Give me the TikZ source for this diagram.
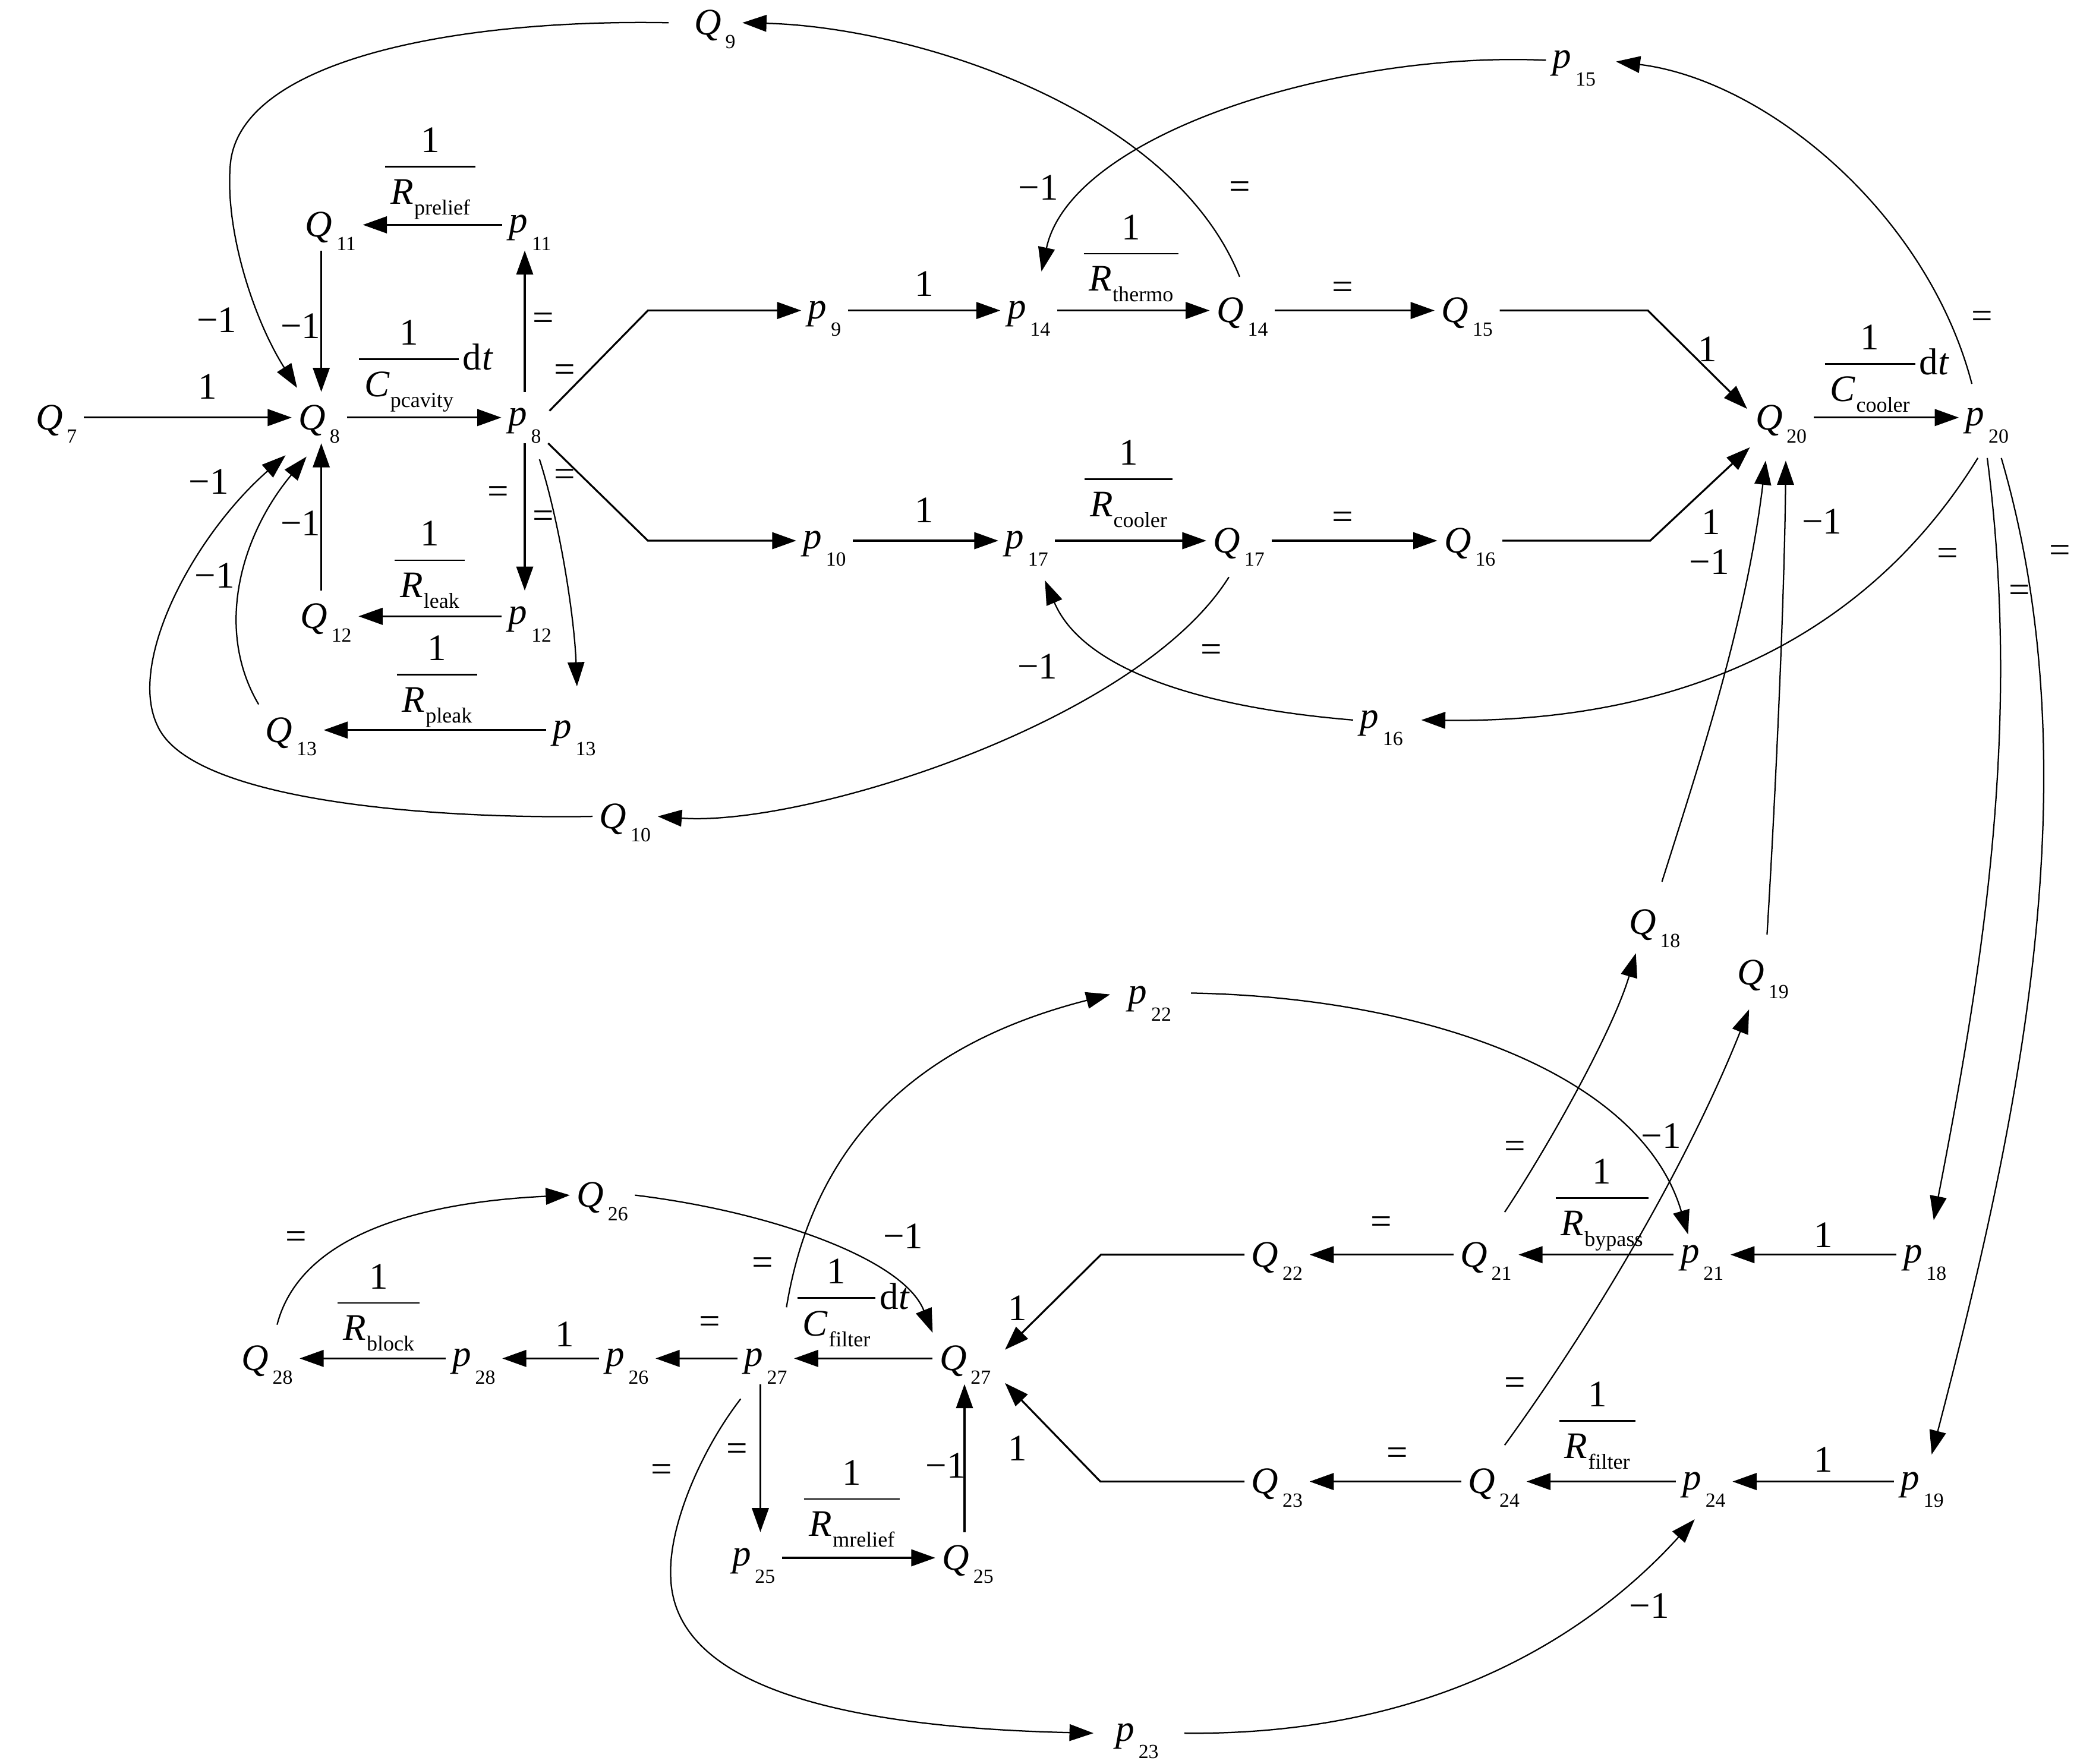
\documentclass[tikz,border=0pt]{standalone}
\usepackage{fontspec}
\setmainfont{Liberation Serif}
\usetikzlibrary{arrows.meta,calc}
\newcommand\QV[1]{\textit{Q}\kern3pt\raisebox{-10pt}[0pt][0pt]{\fontsize{15}{15}\selectfont #1}}
\newcommand\PV[1]{\textit{p}\kern3pt\raisebox{-13pt}[0pt][0pt]{\fontsize{15}{15}\selectfont #1}}
\newcommand\myfrac[2]{%
 \setbox0=\hbox{\textit{#1}\kern0.5pt\raisebox{-8pt}{\fontsize{16}{16}\selectfont #2}}%
 \vbox{\offinterlineskip
  \hbox to \dimexpr\wd0+8pt\relax{\hss 1\hss}%
  \kern10pt
  \hrule height 1.2pt
  \kern9pt
  \hbox to \dimexpr\wd0+8pt\relax{\hss\box0\hss}}}
\newcommand\myfracdt[2]{\hbox{\myfrac{#1}{#2}\kern3pt\raisebox{20pt}{d\kern0.5pt\textit{t}}}}
\begin{document}
\begin{tikzpicture}[x=1pt,y=1pt,
  every node/.style={font=\fontsize{28}{30}\selectfont},
  var/.style={inner xsep=5pt,inner ysep=10pt,text height=18pt,text depth=0pt},
  pvar/.style={inner xsep=5pt,inner ysep=13pt,text height=12pt,text depth=0pt},
  lb/.style={inner sep=0pt},
  frc/.style={inner sep=0pt,anchor=base},
  frw/.style={inner sep=0pt,anchor=base west},
  sarr/.style={-{Triangle[length=18pt,width=12.5pt]},line width=1.4pt},
  carr/.style={-{Triangle[length=18pt,width=12.5pt]},line width=1.0pt}]
\useasboundingbox (0,0) rectangle (1568,-1318);
% variable nodes
\node[var] (Q7) at (42,-312) {\QV{7}};
\node[var] (Q8) at (238.5,-312) {\QV{8}};
\node[pvar] (p8) at (392,-312) {\PV{8}};
\node[var] (Q11) at (247,-168) {\QV{11}};
\node[pvar] (p11) at (396,-168) {\PV{11}};
\node[var] (Q12) at (243.5,-460.5) {\QV{12}};
\node[pvar] (p12) at (396,-460.5) {\PV{12}};
\node[var] (Q13) at (217.5,-545.5) {\QV{13}};
\node[pvar] (p13) at (429,-545.5) {\PV{13}};
\node[var] (Q9) at (534,-17) {\QV{9}};
\node[var] (Q10) at (467,-610) {\QV{10}};
\node[pvar] (p9) at (616,-232) {\PV{9}};
\node[pvar] (p14) at (768.5,-232) {\PV{14}};
\node[var] (Q14) at (928,-232) {\QV{14}};
\node[var] (Q15) at (1096,-232) {\QV{15}};
\node[pvar] (p10) at (616,-404) {\PV{10}};
\node[pvar] (p17) at (767,-404) {\PV{17}};
\node[var] (Q17) at (925.5,-404) {\QV{17}};
\node[var] (Q16) at (1098,-404) {\QV{16}};
\node[var] (Q20) at (1330.5,-312) {\QV{20}};
\node[pvar] (p20) at (1484.5,-312) {\PV{20}};
\node[pvar] (p15) at (1176,-45) {\PV{15}};
\node[pvar] (p16) at (1032,-538) {\PV{16}};
\node[var] (Q18) at (1236,-689) {\QV{18}};
\node[var] (Q19) at (1317,-727) {\QV{19}};
\node[pvar] (p22) at (859,-744) {\PV{22}};
\node[var] (Q22) at (954,-937.5) {\QV{22}};
\node[var] (Q21) at (1110,-937.5) {\QV{21}};
\node[pvar] (p21) at (1271.5,-937.5) {\PV{21}};
\node[pvar] (p18) at (1438,-937.5) {\PV{18}};
\node[var] (Q23) at (954,-1107) {\QV{23}};
\node[var] (Q24) at (1116,-1107) {\QV{24}};
\node[pvar] (p24) at (1273,-1107) {\PV{24}};
\node[pvar] (p19) at (1436,-1107) {\PV{19}};
\node[pvar] (p23) at (849.5,-1295) {\PV{23}};
\node[var] (Q26) at (450,-893) {\QV{26}};
\node[var] (Q28) at (199.5,-1015) {\QV{28}};
\node[pvar] (p28) at (354,-1015) {\PV{28}};
\node[pvar] (p26) at (468.5,-1015) {\PV{26}};
\node[pvar] (p27) at (572,-1015) {\PV{27}};
\node[var] (Q27) at (721,-1015) {\QV{27}};
\node[pvar] (p25) at (563,-1164) {\PV{25}};
\node[var] (Q25) at (723,-1164) {\QV{25}};
% fractions
\node[frc] (f1) at (321.5,-152.5) {\myfrac{R}{prelief}};
\node[frw] (f2) at (268,-296.5) {\myfracdt{C}{pcavity}};
\node[frc] (f3) at (321,-446.5) {\myfrac{R}{leak}};
\node[frc] (f4) at (326.5,-532) {\myfrac{R}{pleak}};
\node[frc] (f5) at (845,-217.5) {\myfrac{R}{thermo}};
\node[frc] (f6) at (843,-386) {\myfrac{R}{cooler}};
\node[frw] (f7) at (1363,-300) {\myfracdt{C}{cooler}};
\node[frc] (f8) at (1196.7,-923) {\myfrac{R}{bypass}};
\node[frc] (f9) at (1193.2,-1089.5) {\myfrac{R}{filter}};
\node[frw] (f10) at (595.4,-998) {\myfracdt{C}{filter}};
\node[frc] (f11) at (282.9,-1001.5) {\myfrac{R}{block}};
\node[frc] (f12) at (636.4,-1148) {\myfrac{R}{mrelief}};
% corner coordinates
\coordinate (c1) at (484,-232);
\coordinate (c2) at (484,-404);
\coordinate (c3) at (1231,-232);
\coordinate (c4) at (1232.7,-404);
\coordinate (c5) at (822.4,-937.5);
\coordinate (c6) at (822,-1107);
% straight connectors, upper left
\draw[sarr] (Q7.east) -- (Q8.west);
\draw[sarr] (Q8.east) -- (p8.west);
\draw[sarr] (p8.north) -- (p8.north |- p11.south);
\draw[sarr] (p11.west) -- (Q11.east);
\draw[sarr] ([xshift=-7pt]Q11.south) -- ([xshift=-7pt]Q11.south |- Q8.north);
\draw[sarr] ([xshift=-3.5pt]Q12.north) -- ([xshift=-3.5pt]Q12.north |- Q8.south);
\draw[sarr] (p8.south) -- (p8.south |- p12.north);
\draw[sarr] (p12.west) -- (Q12.east);
\draw[sarr] (p13.west) -- (Q13.east);
\draw[carr] ($(p8.south)+(11,-12)$) .. controls (418,-390) and (429,-460) .. ($(p13.north)+(2,13.5)$);
\draw[carr] (Q13.north west) .. controls (160,-470) and (180,-400) .. ($(Q8.south)+(-9.5,-10)$);
\draw[carr] (Q10.west) .. controls (330,-612) and (145,-600) .. (118,-543) .. controls (94,-495) and (145,-400) .. ($(Q8.south west)+(-4.6,-9)$);
\draw[carr] ($(Q9.west)+(-14,0)$) .. controls (340,-14) and (178,-45) .. (172,-123.5) .. controls (168,-173.4) and (190,-239.6) .. ($(Q8.north west)+(4,3)$);
\draw[carr] ($(Q14.north)+(-2,6)$) .. controls (875,-80) and (680,-20) .. (Q9.east);
% middle rows
\draw[sarr] ($(p8.east)+(1,5)$) -- (c1) -- (p9.west);
\draw[sarr] (p8.south east) -- (c2) -- (p10.west);
\draw[sarr] (p9.east) -- (p14.west);
\draw[sarr] (p14.east) -- (Q14.west);
\draw[sarr] (Q14.east) -- (Q15.west);
\draw[sarr] (Q15.east) -- (c3) -- ($(Q20.west)+(-1,6.5)$);
\draw[sarr] (p10.east) -- (p17.west);
\draw[sarr] (p17.east) -- (Q17.west);
\draw[sarr] (Q17.east) -- (Q16.west);
\draw[sarr] (Q16.east) -- (c4) -- ($(Q20.south west)+(1,-3)$);
\draw[sarr] (Q20.east) -- (p20.west);
\draw[carr] ($(p20.north)+(-11.5,6)$) .. controls (1440,-160) and (1320,-60) .. ($(p15.east)+(10,-1)$);
\draw[carr] (p15.west) .. controls (1000,-38) and (800,-100) .. ($(p14.north)+(9.5,10)$);
\draw[carr] ($(Q17.south)+(-7.5,-8)$) .. controls (850,-540) and (600,-618) .. (Q10.east);
\draw[carr] (p16.west) .. controls (890,-528) and (808,-498) .. ($(p17.south)+(13.6,-10.5)$);
\draw[carr] ($(p20.south)+(-7,-11)$) .. controls (1380,-500) and (1220,-540) .. ($(p16.east)+(8.5,0)$);
\draw[carr] ($(p20.south)+(0,-11)$) .. controls (1510,-540) and (1482.5,-716) .. ($(p18.north)+(6.5,6.6)$);
\draw[carr] ($(p20.south)+(10.5,-11)$) .. controls (1565,-582) and (1505.5,-846.5) .. ($(p19.north)+(7,1)$);
\draw[carr] ($(Q18.north)+(5.5,11)$) .. controls (1271.5,-564) and (1304.6,-463) .. ($(Q20.south)+(-11.5,-13)$);
\draw[carr] ($(Q19.north)+(3,9.5)$) .. controls (1326,-600) and (1333,-450) .. ($(Q20.south)+(3.5,-13)$);
\draw[carr] ($(Q21.north)+(14,12.6)$) .. controls (1157,-856) and (1205,-770) .. ($(Q18.south)+(-14,-4)$);
\draw[carr] ($(Q24.north)+(8,8)$) .. controls (1195,-982) and (1262,-866) .. ($(Q19.south)+(-10.4,-8)$);
% lower part
\draw[carr] ($(p22.east)+(9.5,2)$) .. controls (1060,-745) and (1225,-800) .. ($(p21.north)+(-10.5,-4)$);
\draw[carr] ($(p27.north)+(15.5,19)$) .. controls (610,-840) and (700,-776) .. ($(p22.west)+(-8.5,1)$);
\draw[sarr] (p18.west) -- (p21.east);
\draw[sarr] (p21.west) -- (Q21.east);
\draw[sarr] (Q21.west) -- (Q22.east);
\draw[sarr] (Q22.west) -- (c5) -- ($(Q27.east)+(5.4,6.5)$);
\draw[sarr] (Q23.west) -- (c6) -- ($(Q27.east)+(5.4,-18.4)$);
\draw[sarr] (Q24.west) -- (Q23.east);
\draw[sarr] (p24.west) -- (Q24.east);
\draw[sarr] (p19.west) -- (p24.east);
\draw[carr] ($(p23.east)+(14,0)$) .. controls (1060,-1297) and (1180,-1230) .. ($(p24.south)+(-7,-9)$);
\draw[carr] ($(p27.south west)+(2.5,-11)$) .. controls (523,-1084.5) and (500,-1140) .. (501,-1176) .. controls (501,-1250) and (600,-1290) .. ($(p23.west)+(-11.4,0)$);
\draw[sarr] (Q27.west) -- (p27.east);
\draw[sarr] (p27.west) -- (p26.east);
\draw[sarr] (p26.west) -- (p28.east);
\draw[sarr] (p28.west) -- (Q28.east);
\draw[carr] ($(Q28.north)+(7.5,6)$) .. controls (225,-920) and (320,-898) .. (Q26.west);
\draw[carr] (Q26.east) .. controls (573.6,-905) and (674.6,-940) .. (Q27.north west);
\draw[sarr] ([xshift=-4pt]p27.south) -- ([xshift=-4pt]p27.south |- p25.north);
\draw[sarr] (p25.east) -- (Q25.west);
\draw[sarr] ([xshift=-2.5pt]Q25.north) -- ([xshift=-2.5pt]Q25.north |- Q27.south);
% labels "1"
\node[lb] (a1) at (155,-289) {1};
\node[lb] (a2) at (690.5,-212) {1};
\node[lb] (a3) at (690.5,-381) {1};
\node[lb] (a4) at (1275.6,-261) {1};
\node[lb] (a5) at (1278,-390) {1};
\node[lb] (a6) at (1362,-922.8) {1};
\node[lb] (a7) at (1362,-1090.7) {1};
\node[lb] (a8) at (421.8,-997) {1};
\node[lb] (a9) at (760,-977.4) {1};
\node[lb] (a10) at (760,-1082) {1};
% labels "-1"
\node[lb] (m1) at (162,-239) {−1};
\node[lb] (m2) at (224.5,-243.5) {−1};
\node[lb] (m3) at (156,-360) {−1};
\node[lb] (m4) at (224.5,-391) {−1};
\node[lb] (m5) at (160.5,-430) {−1};
\node[lb] (m6) at (775.6,-140) {−1};
\node[lb] (m7) at (1361,-389.5) {−1};
\node[lb] (m8) at (1277,-419.6) {−1};
\node[lb] (m9) at (775,-498) {−1};
\node[lb] (m10) at (1241,-848.5) {−1};
\node[lb] (m11) at (1232,-1200) {−1};
\node[lb] (m12) at (674.7,-923.6) {−1};
\node[lb] (m13) at (706.4,-1095) {−1};
% labels "="
\node[lb] (e1) at (406,-240) {=};
\node[lb] (e2) at (422,-279) {=};
\node[lb] (e3) at (422,-357) {=};
\node[lb] (e4) at (372,-370) {=};
\node[lb] (e5) at (406,-388) {=};
\node[lb] (e6) at (926,-142) {=};
\node[lb] (e7) at (1003,-217) {=};
\node[lb] (e8) at (1003,-389) {=};
\node[lb] (e9) at (905,-488) {=};
\node[lb] (e10) at (1480.7,-239) {=};
\node[lb] (e11) at (1455,-416) {=};
\node[lb] (e12) at (1508.6,-443.6) {=};
\node[lb] (e13) at (1539,-414) {=};
\node[lb] (e14) at (1131.7,-859) {=};
\node[lb] (e15) at (1131.7,-1035.7) {=};
\node[lb] (e16) at (1031.8,-915.3) {=};
\node[lb] (e17) at (1044,-1088) {=};
\node[lb] (e18) at (569.6,-946) {=};
\node[lb] (e19) at (530,-990) {=};
\node[lb] (e20) at (221,-926.5) {=};
\node[lb] (e21) at (550.6,-1085) {=};
\node[lb] (e22) at (494.3,-1100.5) {=};
\end{tikzpicture}
\end{document}
